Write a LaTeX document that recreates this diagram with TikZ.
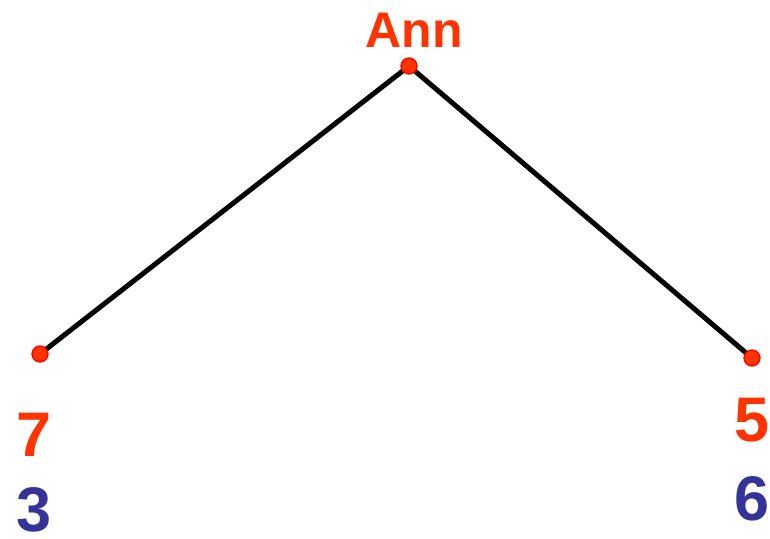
\documentclass[tikz,border=0pt]{standalone}
\usepackage{fontspec}
\setmainfont{Liberation Sans}
\definecolor{orred}{HTML}{FF3300}
\definecolor{pblue}{HTML}{333399}
\tikzset{
  dot/.style={circle,inner sep=0pt,minimum size=16pt,fill=orred,draw=red,line width=1.3pt},
  edge/.style={line width=5pt,black},
  lbl/.style={anchor=base,inner sep=0pt,font=\bfseries\fontsize{50}{60}\selectfont},
  num/.style={anchor=base,inner sep=0pt,font=\bfseries\fontsize{63}{76}\selectfont}
}
\begin{document}
\begin{tikzpicture}[x=1pt,y=-1pt]
\useasboundingbox (0,0) rectangle (770,538);
\coordinate (ctop) at (409,66);
\coordinate (cleft) at (40,354);
\coordinate (cright) at (752,358);
\draw[edge] (ctop) -- (cleft);
\draw[edge] (ctop) -- (cright);
\node[dot] (top) at (ctop) {};
\node[dot] (left) at (cleft) {};
\node[dot] (right) at (cright) {};
\node[lbl,text=orred] (ann) at (414,47) {Ann};
\node[num,text=orred] (l1) at (34,456) {7};
\node[num,text=pblue] (l2) at (34,531) {3};
\node[num,text=orred] (r1) at (752,441) {5};
\node[num,text=pblue] (r2) at (752,520) {6};
\end{tikzpicture}
\end{document}
